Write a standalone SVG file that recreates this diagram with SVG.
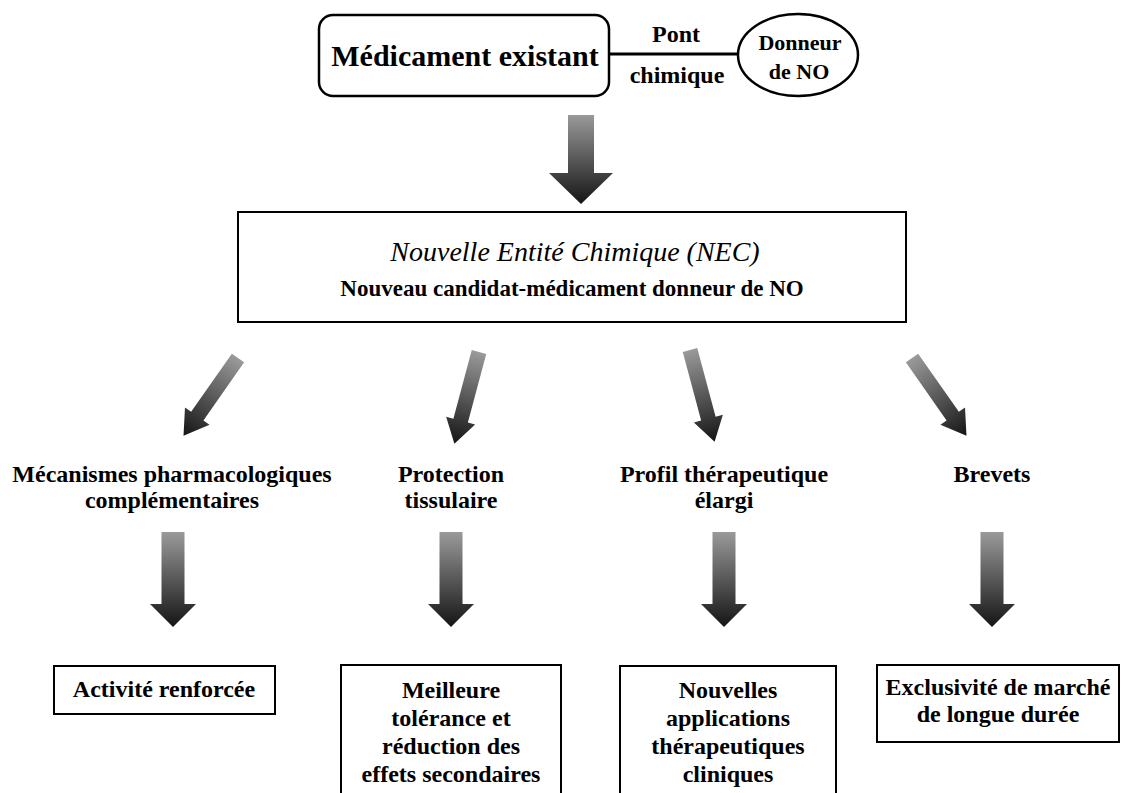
<svg xmlns="http://www.w3.org/2000/svg" xmlns:xlink="http://www.w3.org/1999/xlink" width="1122" height="793" viewBox="0 0 1122 793">
<style>
.t{font-family:"Liberation Serif","Times New Roman",serif;font-weight:bold;fill:#000;text-anchor:middle}
.it{font-family:"Liberation Serif","Times New Roman",serif;font-style:italic;font-weight:normal;fill:#000;text-anchor:middle}
.box{fill:#fff;stroke:#000;stroke-width:2}
.arr{fill:url(#grad)}
</style>
<defs>
<linearGradient id="grad" x1="0" y1="0" x2="0" y2="1">
<stop offset="0" stop-color="#9a9a9a"/>
<stop offset="1" stop-color="#151515"/>
</linearGradient>
<path id="vArrow" d="M-11.5,0 H11.5 V72 H23 L0,95 L-23,72 H-11.5 Z"/>
<path id="dArrow" d="M-7.5,0 H7.5 V71 H15 L0,95 L-15,71 H-7.5 Z"/>
</defs>
<rect width="1122" height="793" fill="#fff"/>

<g id="connectors">
<line x1="609" y1="54" x2="738" y2="54" stroke="#000" stroke-width="3"/>
<path class="arr" d="M568,115 H594 V173 H613 L581,204 L549,173 H568 Z"/>
<use class="arr" xlink:href="#dArrow" transform="translate(238,358) rotate(35)"/>
<use class="arr" xlink:href="#dArrow" transform="translate(479,352) rotate(15)"/>
<use class="arr" xlink:href="#dArrow" transform="translate(690,350) rotate(-15)"/>
<use class="arr" xlink:href="#dArrow" transform="translate(912,358) rotate(-35)"/>
<use class="arr" xlink:href="#vArrow" transform="translate(173,532)"/>
<use class="arr" xlink:href="#vArrow" transform="translate(451,532)"/>
<use class="arr" xlink:href="#vArrow" transform="translate(724,532)"/>
<use class="arr" xlink:href="#vArrow" transform="translate(992,532)"/>
</g>

<g id="existing-drug">
<rect x="319" y="15" width="290" height="81" rx="14" fill="#fff" stroke="#000" stroke-width="2.5"/>
<text class="t" x="465" y="66" font-size="30">Médicament existant</text>
</g>

<g id="bridge-label">
<text class="t" x="676" y="42" font-size="24">Pont</text>
<text class="t" x="677" y="83" font-size="24">chimique</text>
</g>

<g id="no-donor">
<ellipse cx="798" cy="55" rx="60" ry="41" fill="#fff" stroke="#000" stroke-width="2.5"/>
<text class="t" x="800" y="50" font-size="22">Donneur</text>
<text class="t" x="799" y="79" font-size="22">de NO</text>
</g>

<g id="nec">
<rect class="box" x="238" y="212" width="668" height="110"/>
<text class="it" x="575" y="261" font-size="28">Nouvelle Entité Chimique (NEC)</text>
<text class="t" x="572" y="296" font-size="23">Nouveau candidat-médicament donneur de NO</text>
</g>

<g id="mechanisms">
<text class="t" x="172" y="482" font-size="24">Mécanismes pharmacologiques</text>
<text class="t" x="172" y="508" font-size="24">complémentaires</text>
</g>

<g id="protection">
<text class="t" x="451" y="482" font-size="24">Protection</text>
<text class="t" x="451" y="508" font-size="24">tissulaire</text>
</g>

<g id="profile">
<text class="t" x="724" y="482" font-size="24">Profil thérapeutique</text>
<text class="t" x="724" y="508" font-size="24">élargi</text>
</g>

<g id="patents">
<text class="t" x="992" y="482" font-size="24">Brevets</text>
</g>

<g id="activity">
<rect class="box" x="54" y="666" width="221" height="48"/>
<text class="t" x="164" y="697" font-size="24">Activité renforcée</text>
</g>

<g id="tolerance">
<rect class="box" x="341" y="665" width="220" height="140"/>
<text class="t" x="451" y="698" font-size="24">Meilleure</text>
<text class="t" x="451" y="726" font-size="24">tolérance et</text>
<text class="t" x="451" y="754" font-size="24">réduction des</text>
<text class="t" x="451" y="782" font-size="24">effets secondaires</text>
</g>

<g id="applications">
<rect class="box" x="620" y="666" width="216" height="140"/>
<text class="t" x="728" y="698" font-size="24">Nouvelles</text>
<text class="t" x="728" y="726" font-size="24">applications</text>
<text class="t" x="728" y="754" font-size="24">thérapeutiques</text>
<text class="t" x="728" y="782" font-size="24">cliniques</text>
</g>

<g id="exclusivity">
<rect class="box" x="877" y="665" width="242" height="77"/>
<text class="t" x="998" y="695" font-size="24">Exclusivité de marché</text>
<text class="t" x="998" y="722" font-size="24">de longue durée</text>
</g>
</svg>
